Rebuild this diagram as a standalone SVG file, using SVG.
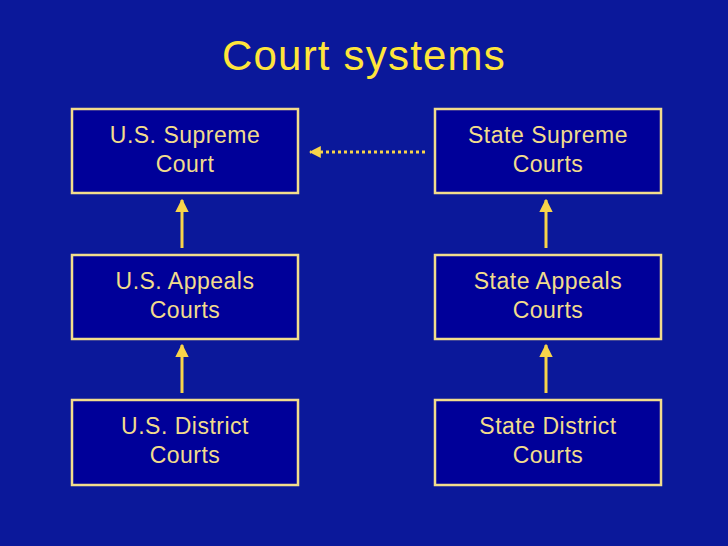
<svg xmlns="http://www.w3.org/2000/svg" width="728" height="546" viewBox="0 0 728 546">
<style>
.box{fill:#000099;stroke:#F2DC8C;stroke-width:2.5}
.t{font-family:"Liberation Sans",Arial,sans-serif;font-size:23px;fill:#F2DC8C;text-anchor:middle;letter-spacing:0.5px}
.title{font-family:"Liberation Sans",Arial,sans-serif;font-size:42px;fill:#FFE53A;text-anchor:middle;letter-spacing:1.2px}
.up{stroke:#F8D44A;stroke-width:3;fill:none;marker-end:url(#ah)}
.dot{stroke:#F8D44A;stroke-width:3;fill:none;stroke-dasharray:3 3;marker-end:url(#ah2)}
</style>
<defs>
<marker id="ah" viewBox="0 0 10 10" refX="9" refY="5" markerWidth="4.5" markerHeight="4.5" orient="auto" markerUnits="strokeWidth"><path d="M0,0 L10,5 L0,10 Z" fill="#F8D44A"/></marker>
<marker id="ah2" viewBox="0 0 10 10" refX="9" refY="5" markerWidth="4" markerHeight="4" orient="auto" markerUnits="strokeWidth"><path d="M0,0 L10,5 L0,10 Z" fill="#F8D44A"/></marker>
</defs>
<rect width="728" height="546" fill="#0B189A"/>
<text class="title" x="364" y="70">Court systems</text>
<g id="us-supreme"><rect class="box" x="72" y="109" width="226" height="84"/><text class="t" x="185" y="143">U.S. Supreme</text><text class="t" x="185" y="172">Court</text></g>
<g id="us-appeals"><rect class="box" x="72" y="255" width="226" height="84"/><text class="t" x="185" y="289">U.S. Appeals</text><text class="t" x="185" y="318">Courts</text></g>
<g id="us-district"><rect class="box" x="72" y="400" width="226" height="85"/><text class="t" x="185" y="434">U.S. District</text><text class="t" x="185" y="463">Courts</text></g>
<g id="state-supreme"><rect class="box" x="435" y="109" width="226" height="84"/><text class="t" x="548" y="143">State Supreme</text><text class="t" x="548" y="172">Courts</text></g>
<g id="state-appeals"><rect class="box" x="435" y="255" width="226" height="84"/><text class="t" x="548" y="289">State Appeals</text><text class="t" x="548" y="318">Courts</text></g>
<g id="state-district"><rect class="box" x="435" y="400" width="226" height="85"/><text class="t" x="548" y="434">State District</text><text class="t" x="548" y="463">Courts</text></g>
<g id="connectors">
<line class="up" x1="182" y1="248" x2="182" y2="200"/>
<line class="up" x1="182" y1="393" x2="182" y2="345"/>
<line class="up" x1="546" y1="248" x2="546" y2="200"/>
<line class="up" x1="546" y1="393" x2="546" y2="345"/>
<line class="dot" x1="425" y1="152" x2="310" y2="152"/>
</g>
</svg>
